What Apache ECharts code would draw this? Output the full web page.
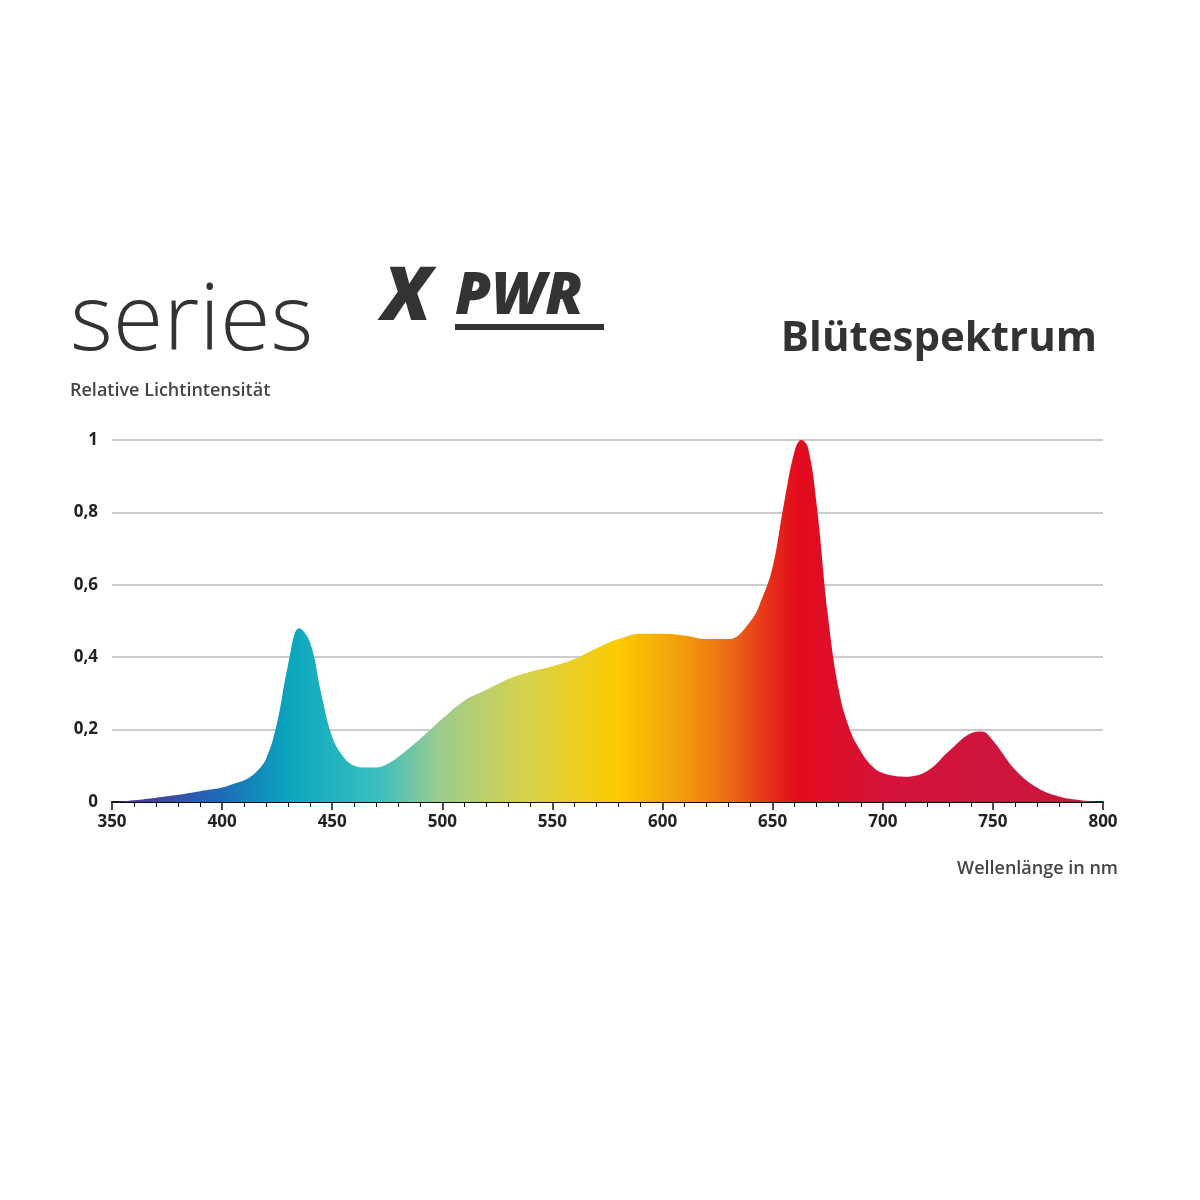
<!DOCTYPE html>
<html>
<head>
<meta charset="utf-8">
<script src="https://cdn.jsdelivr.net/npm/echarts@6/dist/echarts.min.js"></script>
<style>html,body{margin:0;background:#fff}#chart{width:1200px;height:1200px}</style>
</head>
<body>
<div id="chart"></div>
<script>
// Wellenlänge (nm) und relative Intensität
var wavelengths = [350, 360, 370, 380, 390, 400, 405, 410, 415, 420, 425, 430, 435, 440, 445, 450, 455, 460, 465, 470, 475, 480, 490, 500, 510, 520, 530, 540, 550, 560, 570, 580, 590, 600, 610, 620, 630, 640, 645, 650, 655, 660, 663, 666, 670, 675, 680, 685, 690, 695, 700, 710, 720, 730, 740, 745, 750, 760, 770, 780, 790, 800];
var intensity = [0, 0.005, 0.012, 0.02, 0.03, 0.04, 0.05, 0.06, 0.08, 0.12, 0.22, 0.38, 0.48, 0.44, 0.30, 0.18, 0.125, 0.10, 0.095, 0.095, 0.105, 0.125, 0.175, 0.23, 0.28, 0.31, 0.34, 0.36, 0.375, 0.395, 0.425, 0.45, 0.465, 0.465, 0.46, 0.45, 0.45, 0.50, 0.56, 0.65, 0.82, 0.97, 1.0, 0.98, 0.82, 0.52, 0.31, 0.20, 0.14, 0.10, 0.08, 0.07, 0.085, 0.14, 0.19, 0.195, 0.17, 0.09, 0.04, 0.015, 0.005, 0];
var yTicks = ['0', '0,2', '0,4', '0,6', '0,8', '1'];

var myChart = echarts.init(document.getElementById('chart'));
var option = {
	backgroundColor: '#fff',
	grid: { left: 112, right: 97, top: 440, bottom: 398 },
	graphic: [
		{ type: 'text', left: 70, top: 278, style: { text: 'series', font: '300 92px "Open Sans", Lato, sans-serif', fill: '#333' } },
		{ type: 'text', left: 382, top: 262, style: { text: 'X', font: 'italic 900 74px "Open Sans", sans-serif', fill: '#333' } },
		{ type: 'text', left: 455, top: 268, style: { text: 'PWR', font: 'italic 800 58px "Open Sans", sans-serif', fill: '#333' } },
		{ type: 'rect', shape: { x: 455, y: 324, width: 149, height: 6 }, style: { fill: '#333' } },
		{ type: 'text', right: 103, top: 318, style: { text: 'Blütespektrum', font: 'bold 42px "Open Sans", sans-serif', fill: '#333' } },
		{ type: 'text', left: 70, top: 382, style: { text: 'Relative Lichtintensität', font: '600 18px "Open Sans", sans-serif', fill: '#444' } },
		{ type: 'text', right: 82, top: 860, style: { text: 'Wellenlänge in nm', font: '600 18px "Open Sans", sans-serif', fill: '#444' } }
	],
	xAxis: {
		type: 'value', min: 350, max: 800, interval: 50,
		axisLine: { lineStyle: { color: '#111', width: 2 } },
		axisTick: { show: true, length: 8, lineStyle: { color: '#111', width: 1.5 } },
		minorTick: { show: true, splitNumber: 5, length: 5, lineStyle: { color: '#111' } },
		splitLine: { show: false },
		axisLabel: { color: '#222', fontSize: 17, fontWeight: 'bold', fontFamily: '"Open Sans", sans-serif', margin: 12 }
	},
	yAxis: {
		type: 'value', min: 0, max: 1, interval: 0.2,
		axisLine: { show: false },
		axisTick: { show: false },
		splitLine: { lineStyle: { color: '#bbb', width: 1.5 } },
		axisLabel: {
			color: '#222', fontSize: 17, fontWeight: 'bold', fontFamily: '"Open Sans", sans-serif', margin: 14,
			formatter: function (v) { return yTicks[Math.round(v * 5)]; }
		}
	},
	series: [{
		type: 'line', smooth: 0.4, symbol: 'none',
		data: wavelengths.map(function (w, i) { return [w, intensity[i]]; }),
		lineStyle: { width: 0 },
		areaStyle: {
			opacity: 1,
			color: new echarts.graphic.LinearGradient(0, 0, 1, 0, [
				{ offset: 0.0, color: '#5b2c8c' },
				{ offset: 0.11, color: '#1d6bb8' },
				{ offset: 0.18, color: '#0aa7bd' },
				{ offset: 0.27, color: '#3cbfbf' },
				{ offset: 0.33, color: '#9ccb8e' },
				{ offset: 0.42, color: '#d8d24a' },
				{ offset: 0.51, color: '#fccb00' },
				{ offset: 0.56, color: '#f4a80a' },
				{ offset: 0.61, color: '#ee7b12' },
				{ offset: 0.645, color: '#e84a18' },
				{ offset: 0.69, color: '#e30b1c' },
				{ offset: 0.78, color: '#d4133a' },
				{ offset: 1.0, color: '#c8173c' }
			])
		}
	}]
};
myChart.setOption(option);
</script>
</body>
</html>
